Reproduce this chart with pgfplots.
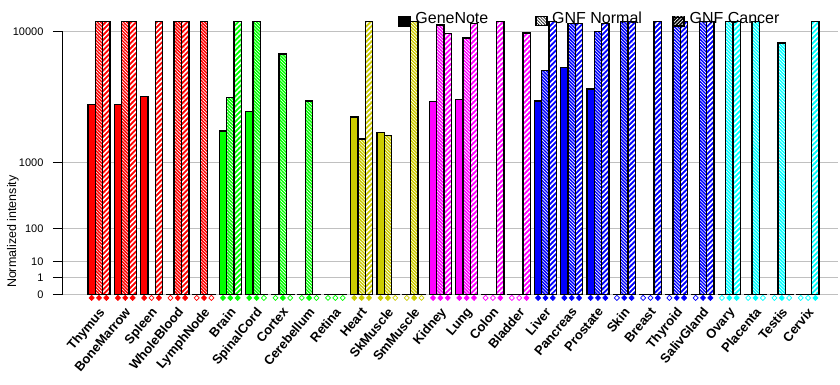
\documentclass[border=0pt]{standalone}
\usepackage{fontspec}
\setmainfont{Liberation Sans}
\usepackage{pgfplots}
\pgfplotsset{compat=1.18}
\usepackage{pgfplotstable}
\usetikzlibrary{patterns.meta}

\definecolor{cR}{RGB}{255,0,0}
\definecolor{cG}{RGB}{0,255,0}
\definecolor{cY}{RGB}{204,204,0}
\definecolor{cM}{RGB}{255,0,255}
\definecolor{cB}{RGB}{0,0,255}
\definecolor{cC}{RGB}{0,255,255}
\definecolor{gridgray}{RGB}{192,192,192}

% x = tissue index; gn = GeneNote, nn = GNF Normal, nc = GNF Cancer; pa/pb/pc = present calls
\pgfplotstableread{
x gn nn nc pa pb pc
0 3400 11300 11300 1 1 1
1 3400 11300 11300 1 1 1
2 3900 0 11300 1 0 1
3 0 11300 11300 0 1 1
4 0 11300 0 0 1 0
}\tblR
\pgfplotstableread{
x gn nn nc pa pb pc
5 2050 3800 11300 1 1 1
6 3000 11300 0 1 1 0
7 0 7400 0 0 1 0
8 0 3600 0 0 1 0
9 0 0 0 0 0 0
}\tblG
\pgfplotstableread{
x gn nn nc pa pb pc
10 2700 1740 11300 1 1 1
11 1980 1870 0 1 1 0
12 0 11300 0 0 1 0
}\tblY
\pgfplotstableread{
x gn nn nc pa pb pc
13 3550 10800 9700 1 1 1
14 3680 9200 11000 1 1 1
15 0 0 11300 0 0 1
16 0 0 9800 0 0 1
}\tblM
\pgfplotstableread{
x gn nn nc pa pb pc
17 3600 5850 11300 1 1 1
18 6100 11000 11000 1 1 1
19 4400 9950 11000 1 1 1
20 0 11300 11300 0 1 1
21 0 0 11300 0 0 1
22 0 11300 11300 0 1 1
23 0 11300 11300 0 1 1
}\tblB
\pgfplotstableread{
x gn nn nc pa pb pc
24 0 11300 11300 0 1 1
25 0 11300 0 0 1 0
26 0 8600 0 0 1 0
27 0 0 11300 0 0 1
}\tblC

\pgfplotsset{
  barbase/.style={forget plot, ybar, bar width=0.28},
  diam/.style={forget plot, scatter, only marks, scatter src=explicit symbolic,
    scatter/classes={1={mark=diamond*, draw=#1, fill=#1}, 0={mark=diamond*, draw=#1, fill=white}},
    mark size=2.6pt, mark options={yshift=-3.6pt, xscale=1.3, line width=0.7pt}},
}

\newcommand\grp[2]{%
  \addplot[barbase, bar shift=-0.28, fill=#2, draw=black, line width=1.4pt] table[x=x,y=gn]{#1};
  \addplot[barbase, bar shift=0, fill=#2, draw=none] table[x=x,y=nn]{#1};
  \addplot[barbase, bar shift=0, pattern={Lines[angle=-45,distance=2.3pt,line width=0.6pt]}, pattern color=white,
     draw=black, line width=1.4pt] table[x=x,y=nn]{#1};
  \addplot[barbase, bar shift=0.28, fill=#2, draw=none] table[x=x,y=nc]{#1};
  \addplot[barbase, bar shift=0.28, pattern={Lines[angle=45,distance=3.6pt,line width=1.5pt]}, pattern color=white,
     draw=black, line width=1.4pt] table[x=x,y=nc]{#1};
  \addplot[diam=#2] table[x expr=\thisrow{x}-0.28, y expr=0, meta=pa]{#1};
  \addplot[diam=#2] table[x expr=\thisrow{x}, y expr=0, meta=pb]{#1};
  \addplot[diam=#2] table[x expr=\thisrow{x}+0.28, y expr=0, meta=pc]{#1};
}

\begin{document}
\begin{tikzpicture}
\begin{axis}[
  scale only axis, width=775pt, height=263pt,
  xmin=-1.371, xmax=28.14, ymin=0, ymax=16,
  y filter/.expression={exp(0.30103*ln(max(y,1e-12)))},
  clip=false,
  axis x line*=bottom, axis y line*=left,
  x axis line style={draw=none},
  y axis line style={draw=black, line width=1pt},
  xtick={0,...,27},
  xticklabels={Thymus,BoneMarrow,Spleen,WholeBlood,LymphNode,Brain,SpinalCord,Cortex,Cerebellum,Retina,Heart,SkMuscle,SmMuscle,Kidney,Lung,Colon,Bladder,Liver,Pancreas,Prostate,Skin,Breast,Thyroid,SalivGland,Ovary,Placenta,Testis,Cervix},
  xtick style={draw=none},
  xticklabel style={xshift=-1pt, yshift=-2pt, rotate=50, anchor=north east, inner sep=0pt,
    font=\fontsize{13}{15}\selectfont\bfseries},
  ytick={0,1,2,4,8,16},
  yticklabels={0,1,10,100,1000,10000},
  ytick style={draw=black, line width=1pt},
  tick align=outside, major tick length=10pt,
  yticklabel style={xshift=-6pt, font=\fontsize{11}{13}\selectfont},
  /pgf/number format/assume math mode=true,
  ymajorgrids, grid style={gridgray, line width=1pt},
  ylabel={Normalized intensity},
  ylabel style={at={(axis description cs:-0.0645,0.238)}, anchor=center, rotate=0,
    font=\fontsize{12.5}{14}\selectfont},
  legend columns=3,
  legend style={draw=none, fill=none, inner sep=0pt, at={(0.432,1.046)}, anchor=west,
    font=\fontsize{16}{19}\selectfont, nodes={inner sep=0pt},
    /tikz/every odd column/.style={column sep=5pt}},
]
\grp{\tblR}{cR}
\grp{\tblG}{cG}
\grp{\tblY}{cY}
\grp{\tblM}{cM}
\grp{\tblB}{cB}
\grp{\tblC}{cC}

\addlegendimage{legend image code/.code={\fill[black] (0pt,-7pt) rectangle (12pt,3pt);}}
\addlegendentry{\makebox[120pt][l]{GeneNote}}
\addlegendimage{legend image code/.code={\draw[black, line width=0.8pt, fill=white] (0.5pt,-6.5pt) rectangle (11.5pt,2.5pt);
   \fill[pattern={Lines[angle=-45,distance=2.2pt,line width=0.6pt]}, pattern color=black] (0.5pt,-6.5pt) rectangle (11.5pt,2.5pt);}}
\addlegendentry{\makebox[120pt][l]{GNF Normal}}
\addlegendimage{legend image code/.code={\fill[black] (0pt,-7pt) rectangle (12pt,3pt);
   \fill[pattern={Lines[angle=45,distance=2.5pt,line width=0.7pt]}, pattern color=white] (1pt,-6pt) rectangle (11pt,2pt);}}
\addlegendentry{GNF Cancer}
\end{axis}
\pgfresetboundingbox
\path[use as bounding box] (current axis.south west) ++(-63pt,-90.7pt) rectangle ++(840pt,385pt);
\end{tikzpicture}
\end{document}
